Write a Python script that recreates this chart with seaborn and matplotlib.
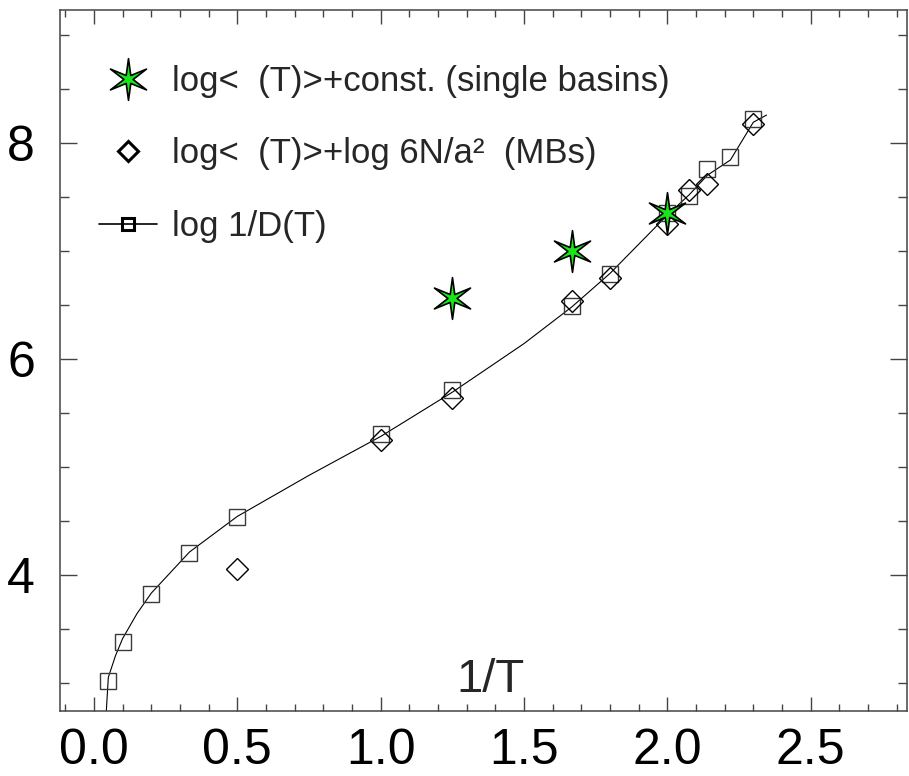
import numpy as np
import pandas as pd
import matplotlib
matplotlib.use("Agg")
import matplotlib.pyplot as plt
from matplotlib.path import Path
from matplotlib.lines import Line2D
from matplotlib.ticker import MultipleLocator, FormatStrFormatter
import seaborn as sns

# ---------------- data ----------------
inv_T_diff = [0.05, 0.10, 0.20, 0.333, 0.50, 1.00, 1.25, 1.667, 1.80, 2.00, 2.077, 2.14, 2.22, 2.30]
log_inv_D = [3.02, 3.38, 3.82, 4.20, 4.53, 5.30, 5.71, 6.49, 6.78, 7.35, 7.51, 7.76, 7.87, 8.22]

inv_T_mb = [0.50, 1.00, 1.25, 1.667, 1.80, 2.00, 2.077, 2.14, 2.30]
log_tau_mb = [4.05, 5.25, 5.64, 6.53, 6.75, 7.25, 7.56, 7.62, 8.17]

inv_T_single = [1.25, 1.667, 2.00]
log_tau_single = [6.56, 7.00, 7.35]

inv_T_curve = [0.043, 0.05, 0.075, 0.10, 0.15, 0.20, 0.333, 0.50, 0.75, 1.00, 1.25,
               1.50, 1.667, 1.80, 2.00, 2.077, 2.14, 2.22, 2.30, 2.346]
log_inv_D_curve = [2.74, 3.05, 3.25, 3.41, 3.64, 3.83, 4.21, 4.54, 4.92, 5.28, 5.69,
                   6.14, 6.48, 6.79, 7.33, 7.52, 7.70, 7.84, 8.19, 8.256]

labels = ["log<  (T)>+const. (single basins)",
          "log<  (T)>+log 6N/a\u00b2  (MBs)",
          "log 1/D(T)"]
x_ticks = [0.0, 0.5, 1.0, 1.5, 2.0, 2.5]
y_ticks = [4, 6, 8]
x_label = "1/T"

# ---------------- style ----------------
sns.set_style("ticks")
plt.rcParams["font.family"] = ["Liberation Sans", "DejaVu Sans"]

# six-pointed star marker
ang = np.deg2rad(np.arange(12) * 30 + 90)
rad = np.where(np.arange(12) % 2 == 0, 1.0, 0.22)
star_verts = np.column_stack([rad * np.cos(ang), rad * np.sin(ang)])
star_verts = np.vstack([star_verts, star_verts[:1]])
star = Path(star_verts, closed=True)

fig = plt.figure(figsize=(9.09, 7.76), dpi=100)
ax = fig.add_axes([60 / 909, 65 / 776, 847 / 909, 701 / 776])

df_curve = pd.DataFrame({"x": inv_T_curve, "y": log_inv_D_curve})
df_diff = pd.DataFrame({"x": inv_T_diff, "y": log_inv_D})
df_mb = pd.DataFrame({"x": inv_T_mb, "y": log_tau_mb})
df_single = pd.DataFrame({"x": inv_T_single, "y": log_tau_single})

sns.lineplot(data=df_curve, x="x", y="y", color="black", linewidth=0.8, ax=ax,
             sort=False, estimator=None)
sns.lineplot(data=df_diff, x="x", y="y", ax=ax, linestyle="", marker="s",
             markersize=11.5, markerfacecolor="none", markeredgecolor="#3a3a3a",
             markeredgewidth=1.0, color="#3a3a3a", estimator=None)
sns.lineplot(data=df_mb, x="x", y="y", ax=ax, linestyle="", marker="D",
             markersize=11, markerfacecolor="none", markeredgecolor="black",
             markeredgewidth=1.0, color="black", estimator=None)
sns.lineplot(data=df_single, x="x", y="y", ax=ax, linestyle="", marker=star,
             markersize=30, markerfacecolor="#19e619", markeredgecolor="black",
             markeredgewidth=1.2, color="black", estimator=None)

ax.set_xlim(-0.1186, 2.836)
ax.set_ylim(2.738, 9.229)
ax.set_xlabel("")
ax.set_ylabel("")

ax.xaxis.set_major_locator(plt.FixedLocator(x_ticks))
ax.xaxis.set_minor_locator(MultipleLocator(0.1))
ax.yaxis.set_major_locator(plt.FixedLocator(y_ticks))
ax.yaxis.set_minor_locator(MultipleLocator(0.5))
ax.xaxis.set_major_formatter(FormatStrFormatter("%.1f"))
ax.yaxis.set_major_formatter(FormatStrFormatter("%d"))

for side in ["left", "right", "top", "bottom"]:
    ax.spines[side].set_visible(True)
    ax.spines[side].set_color("#444444")
    ax.spines[side].set_linewidth(1.1)

ax.tick_params(which="both", direction="in", top=True, right=True,
               color="#444444", width=1.0, labelsize=36, labelcolor="black")
ax.tick_params(axis="x", which="major", length=10, pad=12)
ax.tick_params(axis="x", which="minor", length=5)
ax.tick_params(axis="y", which="major", length=12, pad=18)
ax.tick_params(axis="y", which="minor", length=6.5)

ax.text(0.508, 0.044, x_label, transform=ax.transAxes, fontsize=34,
        ha="center", va="center")

handles = [
    Line2D([], [], linestyle="", marker=star, markersize=30,
           markerfacecolor="#19e619", markeredgecolor="black", markeredgewidth=1.2),
    Line2D([], [], linestyle="", marker="D", markersize=10,
           markerfacecolor="none", markeredgecolor="black", markeredgewidth=2.2),
    Line2D([], [], linestyle="-", color="black", linewidth=1.2, marker="s",
           markersize=9, markerfacecolor="none", markeredgecolor="black",
           markeredgewidth=2.2),
]
ax.legend(handles, labels, loc="upper left",
          bbox_to_anchor=((99 - 60) / 847, 0.922), frameon=False,
          fontsize=25, handlelength=1.67, handletextpad=0.43,
          labelspacing=1.14, borderpad=0, borderaxespad=0)

fig.savefig("out.png", dpi=100)
